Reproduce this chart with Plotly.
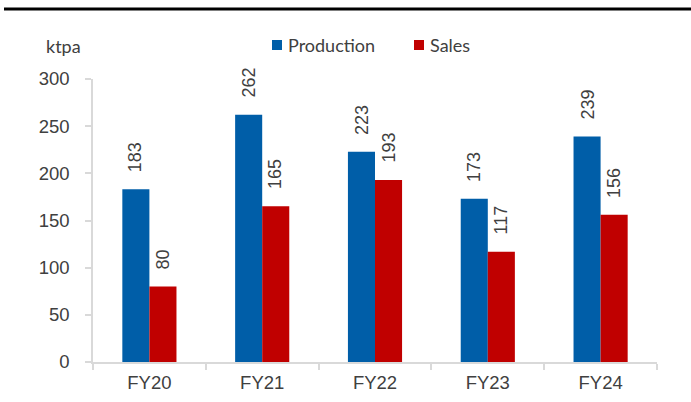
import plotly.graph_objects as go

# Annual production and sales volumes (ktpa)
years = ["FY20", "FY21", "FY22", "FY23", "FY24"]
production = [183, 262, 223, 173, 239]
sales = [80, 165, 193, 117, 156]
series_names = ["Production", "Sales"]
series_colors = ["#005EA8", "#C00000"]

WIDTH, HEIGHT = 691, 402
L, R, T, B = 93, 34, 79, 40
PW, PH = WIDTH - L - R, HEIGHT - T - B
BARGAP = 0.52

TEXT = "#404040"
AXIS = "#D9D9D9"
NUM_FONT = "Liberation Sans, Arial, sans-serif"
LBL_FONT = "Lato, sans-serif"


def fx(px):
    return (px - L) / PW


def fy(py):
    return (HEIGHT - B - py) / PH


fig = go.Figure()
for name, vals, col in zip(series_names, [production, sales], series_colors):
    fig.add_trace(go.Bar(x=years, y=vals, name=name, marker_color=col,
                         marker_line_width=0, showlegend=False))

# value labels, rotated, above each bar
bar_px = PW / len(years) * (1 - BARGAP) / 2
annotations = []
for i, vals in enumerate([production, sales]):
    shift = (i - 0.5) * bar_px
    for cat, v in zip(years, vals):
        annotations.append(dict(
            x=cat, y=v, xref="x", yref="y", text=str(v), showarrow=False,
            textangle=-90, xanchor="center", yanchor="bottom",
            xshift=shift, yshift=15,
            font=dict(family=NUM_FONT, size=18, color=TEXT)))

# unit label
annotations.append(dict(x=fx(63), y=fy(46), xref="paper", yref="paper",
                        text="ktpa", showarrow=False, xanchor="center",
                        yanchor="middle",
                        font=dict(family=LBL_FONT, size=18, color=TEXT)))

# legend entries
shapes = []
legend_x = [272, 414]
for name, col, x0 in zip(series_names, series_colors, legend_x):
    shapes.append(dict(type="rect", xref="paper", yref="paper",
                       x0=fx(x0), x1=fx(x0 + 10), y0=fy(50), y1=fy(40),
                       fillcolor=col, line_width=0))
    annotations.append(dict(x=fx(x0 + 14), y=fy(45), xref="paper", yref="paper",
                            text=name, showarrow=False, xanchor="left",
                            yanchor="middle",
                            font=dict(family=LBL_FONT, size=18, color=TEXT)))

# rule across the top
shapes.append(dict(type="line", xref="paper", yref="paper",
                   x0=fx(4), x1=fx(WIDTH), y0=fy(9), y1=fy(9),
                   line=dict(color="#000000", width=3)))

fig.update_layout(
    width=WIDTH, height=HEIGHT,
    margin=dict(l=L, r=R, t=T, b=B, autoexpand=False),
    paper_bgcolor="white", plot_bgcolor="white",
    barmode="group", bargap=BARGAP, bargroupgap=0,
    annotations=annotations, shapes=shapes,
    font=dict(family=NUM_FONT, size=18, color=TEXT),
)
fig.update_xaxes(showline=True, linecolor=AXIS, linewidth=1.5,
                 ticks="outside", tickson="boundaries", ticklen=6,
                 tickcolor=AXIS, tickwidth=1.5, showgrid=False,
                 ticklabelstandoff=3,
                 tickfont=dict(family=NUM_FONT, size=18.5, color=TEXT))
fig.update_yaxes(range=[0, 300], dtick=50, showline=True, linecolor=AXIS,
                 linewidth=1.5, ticks="outside", ticklen=6, tickcolor=AXIS,
                 tickwidth=1.5, showgrid=False, zeroline=False,
                 ticklabelstandoff=12,
                 tickfont=dict(family=NUM_FONT, size=18.5, color=TEXT))

fig.write_html("out.html")
